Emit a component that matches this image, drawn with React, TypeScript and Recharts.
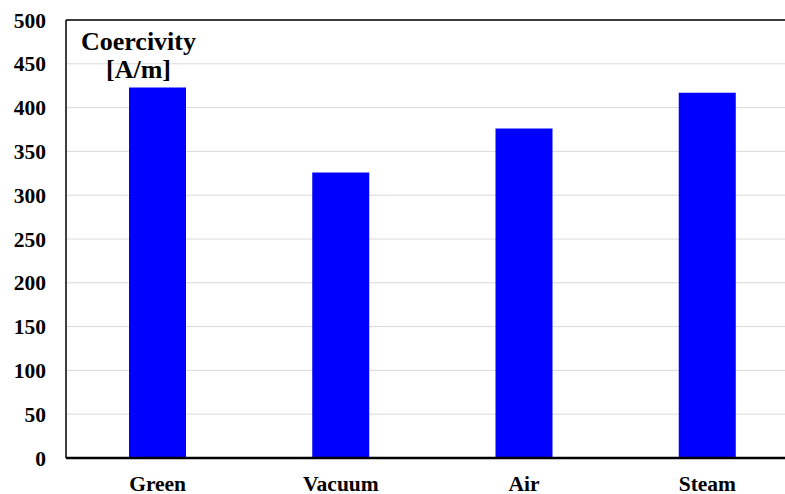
import React from "react";
import { BarChart, Bar, XAxis, YAxis, CartesianGrid, ReferenceLine } from "recharts";

const categories = ["Green", "Vacuum", "Air", "Steam"];
const coercivity = [423, 326, 376, 417];
const yTicks = [0, 50, 100, 150, 200, 250, 300, 350, 400, 450, 500];

const data = categories.map((c, i) => ({ name: c, value: coercivity[i] }));

const font = '"Liberation Serif", "Times New Roman", serif';

export default function App() {
  return (
    <div style={{ position: "absolute", left: 0, top: 0, width: 785, height: 494, overflow: "hidden", background: "#fff" }}>
      <BarChart width={800} height={494} data={data} margin={{ top: 20, right: 1, bottom: 6, left: 6 }}>
        <CartesianGrid vertical={false} stroke="#d9d9d9" strokeWidth={1} />
        <XAxis
          dataKey="name"
          height={30}
          tickLine={false}
          axisLine={{ stroke: "#000", strokeWidth: 2.5 }}
          tickMargin={12}
          tick={{ fill: "#000", fontFamily: font, fontWeight: "bold", fontSize: 21.5 }}
        />
        <YAxis
          width={60}
          domain={[0, 500]}
          ticks={yTicks}
          interval={0}
          tickLine={false}
          axisLine={{ stroke: "#000", strokeWidth: 1.5 }}
          tickMargin={14}
          tick={{ fill: "#000", fontFamily: font, fontWeight: "bold", fontSize: 21.5 }}
        />
        <ReferenceLine y={500} stroke="#000" strokeWidth={1.5} />
        <Bar dataKey="value" fill="#0000ff" barSize={57} isAnimationActive={false} />
      </BarChart>
      <div style={{ position: "absolute", left: 68, top: 28, fontFamily: font, fontWeight: "bold", fontSize: 26, lineHeight: "28px", color: "#000", textAlign: "center", width: 141 }}>
        <div>Coercivity</div>
        <div>[A/m]</div>
      </div>
    </div>
  );
}
